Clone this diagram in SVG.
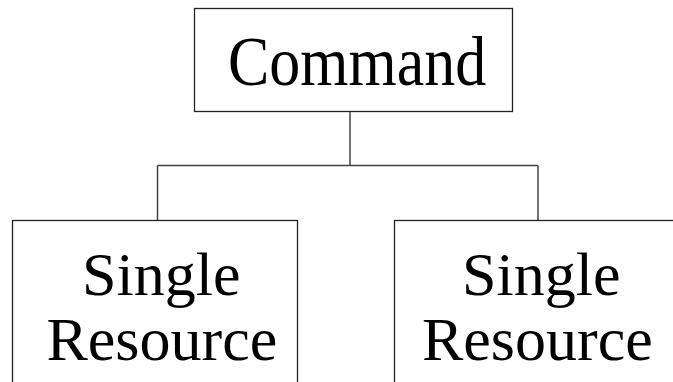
<svg xmlns="http://www.w3.org/2000/svg" width="673" height="382" viewBox="0 0 673 382">
<style>
.box{fill:#fff;stroke:#222;stroke-width:1.3}
.t{font-family:"Liberation Serif","Times New Roman",serif;font-size:62px;fill:#000}
.c{fill:none;stroke:#444;stroke-width:1.5}
</style>
<rect width="673" height="382" fill="#fff"/>
<g id="connectors">
<path class="c" d="M350 112V165.5M157.5 165.5H538M157.5 165.5V220.5M538 165.5V220.5"/>
</g>
<g id="command">
<rect class="box" x="194.5" y="8.5" width="318" height="103"/>
<text class="t" x="228" y="0" transform="translate(0 85) scale(1 1.12)">Command</text>
</g>
<g id="single-resource-1">
<rect class="box" x="12.5" y="220.5" width="285" height="200"/>
<text class="t" x="82" y="295">Single</text>
<text class="t" x="46.5" y="360">Resource</text>
</g>
<g id="single-resource-2">
<rect class="box" x="394.5" y="220.5" width="300" height="200"/>
<text class="t" x="462" y="295">Single</text>
<text class="t" x="422" y="360">Resource</text>
</g>
</svg>
